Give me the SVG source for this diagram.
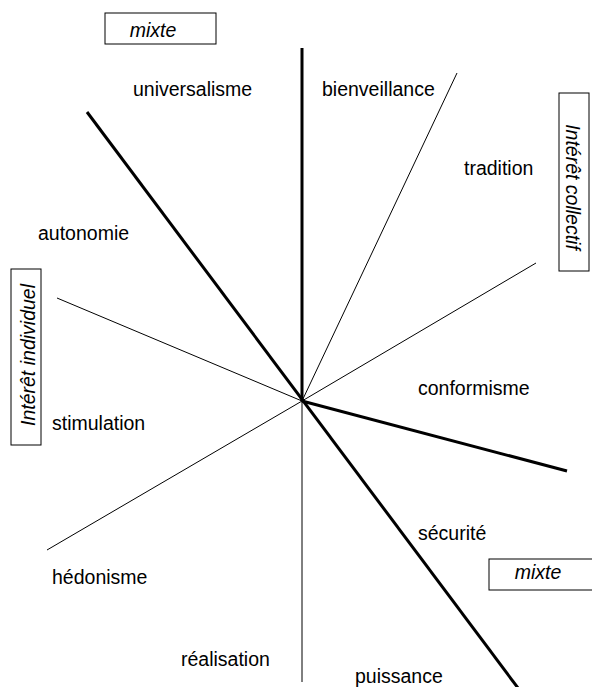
<svg xmlns="http://www.w3.org/2000/svg" width="592" height="687" viewBox="0 0 592 687">
<style>
.lbl{font-family:"Liberation Sans",Arial,sans-serif;font-size:19.5px;fill:#000}
.it{font-style:italic}
.box{fill:#fff;stroke:#000;stroke-width:1}
.thick{stroke:#000;stroke-width:3;fill:none}
.thin{stroke:#000;stroke-width:1;fill:none}
</style>
<rect width="592" height="687" fill="#fff"/>
<g id="connectors">
<line class="thin" x1="302" y1="401" x2="457" y2="73"/>
<line class="thin" x1="302" y1="401" x2="536" y2="263"/>
<line class="thin" x1="302" y1="401" x2="57" y2="298"/>
<line class="thin" x1="302" y1="401" x2="47" y2="550"/>
<line class="thin" x1="302" y1="401" x2="302" y2="682" stroke="#444"/>
<line class="thick" x1="302" y1="48" x2="302" y2="401" stroke-width="4"/>
<line class="thick" x1="87" y1="112" x2="518" y2="688"/>
<line class="thick" x1="302" y1="401" x2="567" y2="471"/>
</g>
<g id="mixte-top"><rect class="box" x="105" y="13" width="111" height="31"/><text class="lbl it" x="153" y="37" text-anchor="middle">mixte</text></g>
<g id="mixte-bottom"><rect class="box" x="489" y="559" width="110" height="31"/><text class="lbl it" x="538" y="579" text-anchor="middle">mixte</text></g>
<g id="interet-individuel"><rect class="box" x="11" y="269" width="30" height="176"/><text class="lbl it" transform="translate(35,355) rotate(-90)" text-anchor="middle">Intérêt individuel</text></g>
<g id="interet-collectif"><rect class="box" x="559" y="93" width="30" height="178"/><text class="lbl it" transform="translate(566,187) rotate(90)" text-anchor="middle">Intérêt collectif</text></g>
<g id="universalisme"><text class="lbl" x="133" y="96">universalisme</text></g>
<g id="bienveillance"><text class="lbl" x="322" y="96">bienveillance</text></g>
<g id="tradition"><text class="lbl" x="464" y="175">tradition</text></g>
<g id="autonomie"><text class="lbl" x="38" y="240">autonomie</text></g>
<g id="conformisme"><text class="lbl" x="418" y="395">conformisme</text></g>
<g id="stimulation"><text class="lbl" x="52" y="430">stimulation</text></g>
<g id="securite"><text class="lbl" x="418" y="540">sécurité</text></g>
<g id="hedonisme"><text class="lbl" x="52" y="584">hédonisme</text></g>
<g id="realisation"><text class="lbl" x="181" y="666">réalisation</text></g>
<g id="puissance"><text class="lbl" x="355" y="683">puissance</text></g>
</svg>
